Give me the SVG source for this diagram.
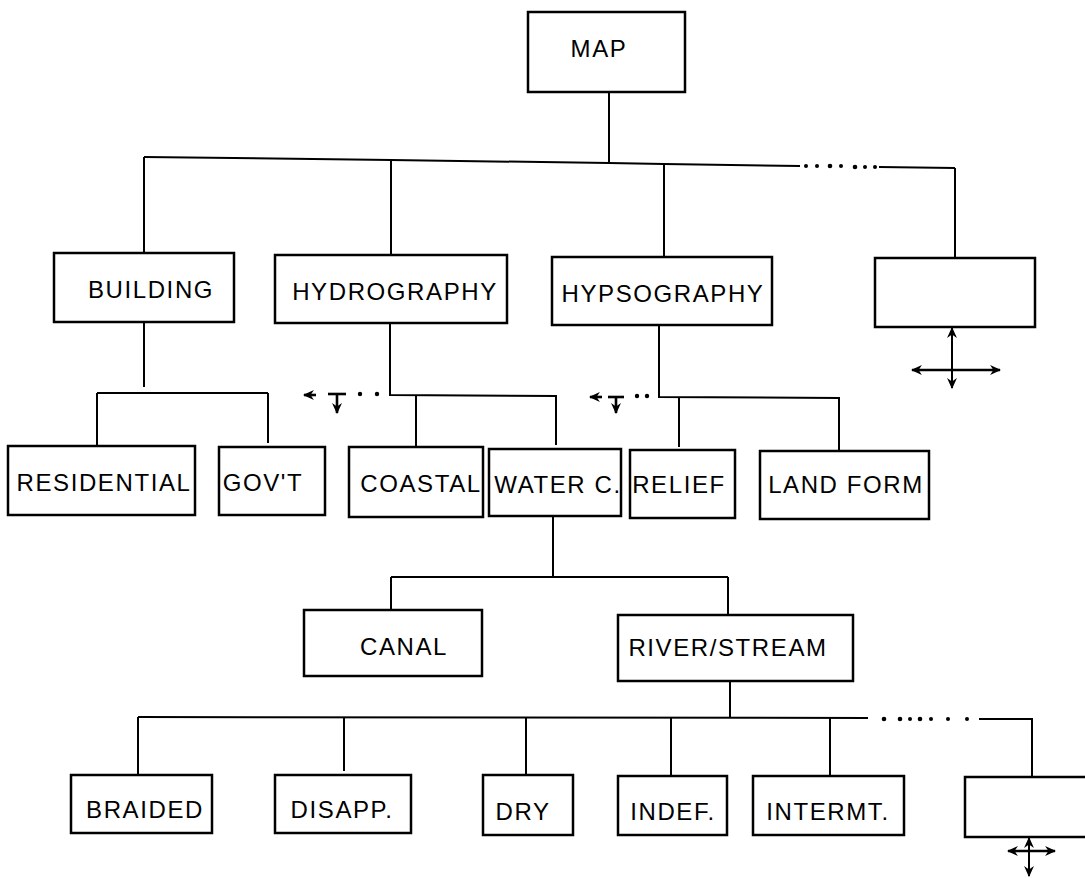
<svg xmlns="http://www.w3.org/2000/svg" width="1085" height="878" viewBox="0 0 1085 878">
<style>
.box{fill:#fff;stroke:#000;stroke-width:2.5}
.lbl{font-family:"Liberation Sans",Arial,sans-serif;font-size:24px;letter-spacing:1.6px;fill:#000;text-anchor:middle}
.ln{fill:none;stroke:#000;stroke-width:2}
.ar{fill:none;stroke:#000;stroke-width:2.6}
.dot{fill:#000}
</style>
<defs>
<marker id="ah" viewBox="0 0 10 10" refX="9" refY="5" markerWidth="11" markerHeight="11" markerUnits="userSpaceOnUse" orient="auto-start-reverse">
<path d="M0,0.5 L10,5 L0,9.5 L3,5 z" fill="#000"/>
</marker>
</defs>
<rect width="1085" height="878" fill="#fff"/>
<g id="connectors">
<line class="ln" x1="609" y1="92" x2="609" y2="163"/>
<polyline class="ln" points="144,157 391,160 609,163 664,164 800,166"/>
<line class="ln" x1="879" y1="167" x2="955" y2="168"/>
<g class="dot"><circle cx="806" cy="166" r="2"/><circle cx="817" cy="166" r="2"/><circle cx="830" cy="166" r="2.3"/><circle cx="841" cy="166" r="2"/><circle cx="855" cy="167" r="2.3"/><circle cx="865" cy="167" r="2"/><circle cx="875" cy="167" r="2"/></g>
<line class="ln" x1="144" y1="157" x2="144" y2="253"/>
<line class="ln" x1="391" y1="160" x2="391" y2="255"/>
<line class="ln" x1="664" y1="164" x2="664" y2="257"/>
<line class="ln" x1="955" y1="168" x2="955" y2="258"/>
<line class="ln" x1="144" y1="322" x2="144" y2="387"/>
<line class="ln" x1="97" y1="393" x2="268" y2="393"/>
<line class="ln" x1="97" y1="393" x2="97" y2="446"/>
<line class="ln" x1="268" y1="393" x2="268" y2="443"/>
<polyline class="ln" points="390,323 390,395 556,396 556,445"/>
<line class="ln" x1="416" y1="395" x2="416" y2="447"/>
<g class="dot"><circle cx="360" cy="394" r="2.2"/><circle cx="377" cy="394" r="2.2"/></g>
<line class="ar" x1="304" y1="395" x2="316" y2="395" marker-start="url(#ah)"/>
<line class="ar" x1="328" y1="394" x2="346" y2="394"/>
<line class="ar" x1="337" y1="394" x2="337" y2="413" marker-end="url(#ah)"/>
<polyline class="ln" points="659,325 659,397 839,398 839,451"/>
<line class="ln" x1="679" y1="397" x2="679" y2="447"/>
<g class="dot"><circle cx="637" cy="396" r="2.2"/><circle cx="647" cy="396" r="2.2"/></g>
<line class="ar" x1="590" y1="397" x2="602" y2="397" marker-start="url(#ah)"/>
<line class="ar" x1="608" y1="397" x2="624" y2="397"/>
<line class="ar" x1="616" y1="397" x2="616" y2="413" marker-end="url(#ah)"/>
<line class="ln" x1="952" y1="328" x2="952" y2="388" marker-start="url(#ah)" marker-end="url(#ah)"/>
<line class="ar" x1="912" y1="370" x2="1000" y2="370" marker-start="url(#ah)" marker-end="url(#ah)"/>
<line class="ln" x1="553" y1="516" x2="553" y2="577"/>
<line class="ln" x1="391" y1="577" x2="728" y2="577"/>
<line class="ln" x1="391" y1="577" x2="391" y2="610"/>
<line class="ln" x1="728" y1="577" x2="728" y2="615"/>
<line class="ln" x1="730" y1="681" x2="730" y2="717"/>
<line class="ln" x1="138" y1="717" x2="868" y2="718"/>
<g class="dot"><circle cx="884" cy="719" r="2.3"/><circle cx="900" cy="719" r="2.3"/><circle cx="910" cy="719" r="2"/><circle cx="920" cy="719" r="2.3"/><circle cx="931" cy="719" r="2"/><circle cx="948" cy="719" r="2"/><circle cx="967" cy="719" r="2"/></g>
<polyline class="ln" points="979,719 1032,719 1032,777"/>
<line class="ln" x1="138" y1="717" x2="138" y2="775"/>
<line class="ln" x1="344" y1="717" x2="344" y2="771"/>
<line class="ln" x1="526" y1="717" x2="526" y2="775"/>
<line class="ln" x1="671" y1="718" x2="671" y2="776"/>
<line class="ln" x1="830" y1="718" x2="830" y2="776"/>
<line class="ln" x1="1029" y1="838" x2="1029" y2="876" marker-start="url(#ah)" marker-end="url(#ah)"/>
<line class="ar" x1="1008" y1="851" x2="1055" y2="851" marker-start="url(#ah)" marker-end="url(#ah)"/>
</g>
<g id="map"><rect class="box" x="528" y="12" width="157" height="80"/><text class="lbl" x="599" y="57">MAP</text></g>
<g id="building"><rect class="box" x="54" y="253" width="180" height="69"/><text class="lbl" x="151" y="298">BUILDING</text></g>
<g id="hydrography"><rect class="box" x="275" y="255" width="232" height="68"/><text class="lbl" x="395" y="300">HYDROGRAPHY</text></g>
<g id="hypsography"><rect class="box" x="552" y="257" width="220" height="68"/><text class="lbl" x="663" y="302">HYPSOGRAPHY</text></g>
<g id="other1"><rect class="box" x="875" y="258" width="160" height="69"/></g>
<g id="residential"><rect class="box" x="8" y="446" width="187" height="69"/><text class="lbl" x="104" y="491">RESIDENTIAL</text></g>
<g id="govt"><rect class="box" x="219" y="447" width="106" height="68"/><text class="lbl" x="263" y="491">GOV'T</text></g>
<g id="coastal"><rect class="box" x="349" y="447" width="134" height="70"/><text class="lbl" x="421" y="492">COASTAL</text></g>
<g id="waterc"><rect class="box" x="489" y="449" width="132" height="67"/><text class="lbl" x="558" y="493">WATER C.</text></g>
<g id="relief"><rect class="box" x="630" y="450" width="105" height="68"/><text class="lbl" x="679" y="493">RELIEF</text></g>
<g id="landform"><rect class="box" x="760" y="451" width="169" height="68"/><text class="lbl" x="846" y="493">LAND FORM</text></g>
<g id="canal"><rect class="box" x="304" y="610" width="178" height="66"/><text class="lbl" x="404" y="655">CANAL</text></g>
<g id="riverstream"><rect class="box" x="618" y="615" width="235" height="66"/><text class="lbl" x="728" y="656">RIVER/STREAM</text></g>
<g id="braided"><rect class="box" x="71" y="775" width="141" height="58"/><text class="lbl" x="145" y="818">BRAIDED</text></g>
<g id="disapp"><rect class="box" x="275" y="775" width="136" height="58"/><text class="lbl" x="342" y="818">DISAPP.</text></g>
<g id="dry"><rect class="box" x="483" y="775" width="90" height="60"/><text class="lbl" x="523" y="820">DRY</text></g>
<g id="indef"><rect class="box" x="618" y="776" width="109" height="59"/><text class="lbl" x="673" y="820">INDEF.</text></g>
<g id="intermt"><rect class="box" x="753" y="776" width="151" height="59"/><text class="lbl" x="828" y="820">INTERMT.</text></g>
<g id="other2"><rect class="box" x="965" y="777" width="130" height="60"/></g>
</svg>
